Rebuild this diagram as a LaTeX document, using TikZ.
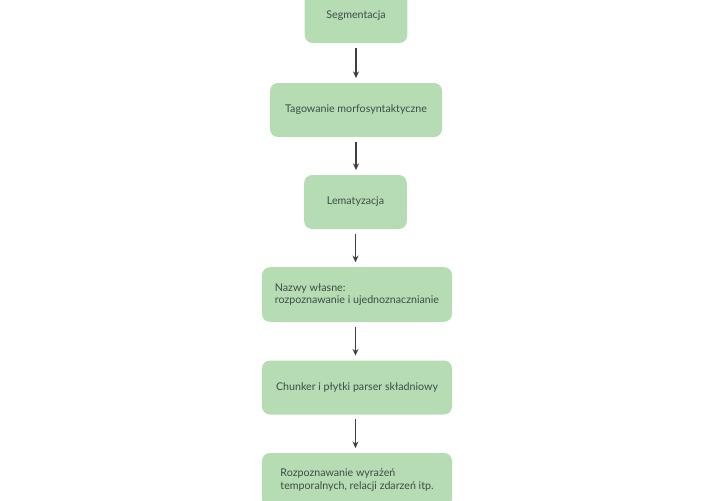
\documentclass[tikz,border=0pt]{standalone}
\usepackage{fontspec}
\setmainfont{Lato}
\usetikzlibrary{arrows.meta}
\definecolor{boxgreen}{RGB}{182,220,180}
\definecolor{inkgray}{RGB}{62,76,72}
\definecolor{arrowgray}{RGB}{60,64,66}
\begin{document}
\begin{tikzpicture}[x=0.75pt,y=-0.75pt,>={Stealth[length=5pt,width=4.5pt]},
 every node/.style={font=\fontsize{8}{9.6}\selectfont,text=inkgray},
 box/.style={fill=boxgreen,rounded corners=6pt,minimum height=40.5pt,inner sep=0pt},
 arr/.style={->,arrowgray,line width=0.8pt,shorten <=3.5pt,shorten >=3.5pt}]
\useasboundingbox (0,0) rectangle (720,500);
\node[box,minimum width=77pt] (seg) at (356,16) {Segmentacja};
\node[box,minimum width=129pt] (tag) at (356,110) {Tagowanie morfosyntaktyczne};
\node[box,minimum width=77pt] (lem) at (355.5,202) {Lematyzacja};
\node[box,minimum width=142.5pt,minimum height=41pt,align=left] (ner) at (357,294.5)
 {Nazwy własne:\\rozpoznawanie i ujednoznacznianie};
\node[box,minimum width=142.5pt] (chk) at (357,387.5) {Chunker i płytki parser składniowy};
\node[box,minimum width=142.5pt,align=left] (tmp) at (357,480)
 {Rozpoznawanie wyrażeń\\temporalnych, relacji zdarzeń itp.};
\draw[arr] (seg.south)--(seg.south|-tag.north);
\draw[arr] (tag.south)--(tag.south|-lem.north);
\draw[arr] (lem.south)--(lem.south|-ner.north);
\draw[arr] (lem.south|-ner.south)--(lem.south|-chk.north);
\draw[arr] (lem.south|-chk.south)--(lem.south|-tmp.north);
\end{tikzpicture}
\end{document}
